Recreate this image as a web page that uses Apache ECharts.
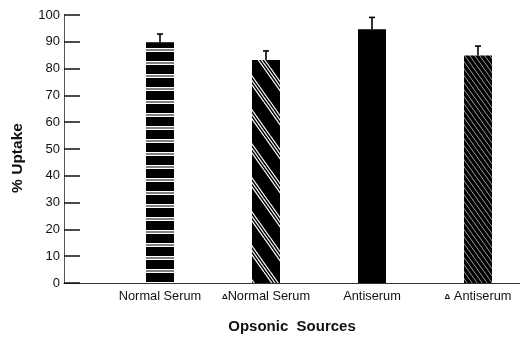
<!DOCTYPE html>
<html><head><meta charset="utf-8">
<script src="https://cdn.jsdelivr.net/npm/echarts@6/dist/echarts.min.js"></script>
<style>html,body{margin:0;padding:0;background:#fff}#c{width:520px;height:338px}</style>
</head><body><div id="c"></div>
<script>
const categories = ['Normal Serum', 'ΔNormal Serum', 'Antiserum', 'Δ Antiserum'];
const uptake = [89.8, 83.2, 94.7, 84.9];
const errorTop = [92.9, 86.6, 99.1, 88.4];
const yTicks = [0, 10, 20, 30, 40, 50, 60, 70, 80, 90, 100];

function makeTile(w, h, draw) {
  const c = document.createElement('canvas');
  c.width = w; c.height = h;
  const g = c.getContext('2d');
  g.fillStyle = '#000'; g.fillRect(0, 0, w, h);
  draw(g, w, h);
  return c;
}
function diagLines(g, W, H, offs, lw, col) {
  g.strokeStyle = col; g.lineWidth = lw;
  for (const o of offs) for (const k of [-W, 0, W]) {
    g.beginPath(); g.moveTo(o + k, 0); g.lineTo(o + k + W, H); g.stroke();
  }
}
const tileStripes = makeTile(4, 13, (g) => {
  g.fillStyle = '#fff';
  g.fillRect(0, 9, 4, 1.5);
  g.fillRect(0, 11.5, 4, 1.5);
});
const tileDiag3 = makeTile(24, 34, (g, W, H) => diagLines(g, W, H, [0, 3.2, 6.4], 1.2, '#fff'));
const tileDense = makeTile(5, 7, (g, W, H) => diagLines(g, W, H, [0], 0.8, 'rgba(255,255,255,0.75)'));

const fills = [
  { image: tileStripes, repeat: 'repeat' },
  { image: tileDiag3, repeat: 'repeat' },
  '#000',
  { image: tileDense, repeat: 'repeat' }
];

const font = '"Liberation Sans", Arial, Helvetica, sans-serif';
const chart = echarts.init(document.getElementById('c'));
chart.setOption({
  animation: false,
  grid: [
    { left: 64, right: 0, top: 15, bottom: 55, outerBoundsMode: 'none', containLabel: false },
    { left: 107, width: 424, top: 15, bottom: 55, outerBoundsMode: 'none', containLabel: false }
  ],
  xAxis: [
    { gridIndex: 0, type: 'value', min: 0, max: 1,
      axisLine: { show: true, lineStyle: { color: '#333', width: 1 } },
      axisTick: { show: false }, axisLabel: { show: false }, splitLine: { show: false },
      name: 'Opsonic  Sources', nameLocation: 'middle', nameGap: 36,
      nameTextStyle: { fontFamily: font, fontSize: 15, fontWeight: 'bold', color: '#111' } },
    { gridIndex: 1, type: 'category', data: categories,
      axisLine: { show: false }, axisTick: { show: false }, splitLine: { show: false },
      axisLabel: { interval: 0, margin: 7, fontFamily: font, fontSize: 12.8, color: '#111',
        formatter: (v) => v.startsWith('Δ') ? '{d|Δ}' + v.slice(1) : v,
        rich: { d: { fontSize: 8, fontWeight: 'bold', fontFamily: font, color: '#111' } } } }
  ],
  yAxis: [
    { gridIndex: 0, type: 'value', min: yTicks[0], max: yTicks[yTicks.length - 1], interval: 10,
      axisLine: { show: true, lineStyle: { color: '#555', width: 1 } },
      axisTick: { show: true, inside: true, length: 16, lineStyle: { color: '#111', width: 1.5 } },
      splitLine: { show: false },
      axisLabel: { margin: 4, fontFamily: font, fontSize: 13, color: '#111' } },
    { gridIndex: 1, type: 'value', min: 0, max: 100, show: false }
  ],
  graphic: [{
    type: 'text', x: 18, y: 158, rotation: Math.PI / 2,
    style: { text: '% Uptake', font: 'bold 15.5px ' + font, fill: '#111',
      textAlign: 'center', textVerticalAlign: 'middle' }
  }],
  series: [
    { type: 'bar', xAxisIndex: 1, yAxisIndex: 1, barWidth: 28,
      data: uptake.map((v, i) => ({ value: v, itemStyle: { color: fills[i] } })) },
    { type: 'custom', xAxisIndex: 1, yAxisIndex: 1,
      data: uptake.map((v, i) => [i, v, errorTop[i]]),
      renderItem: (params, api) => {
        const b = api.coord([api.value(0), api.value(1)]);
        const t = api.coord([api.value(0), api.value(2)]);
        const st = { stroke: '#000', lineWidth: 1.6 };
        return { type: 'group', children: [
          { type: 'line', shape: { x1: b[0], y1: b[1], x2: t[0], y2: t[1] }, style: st },
          { type: 'line', shape: { x1: t[0] - 3, y1: t[1], x2: t[0] + 3, y2: t[1] }, style: st }
        ] };
      } }
  ]
});
</script></body></html>
